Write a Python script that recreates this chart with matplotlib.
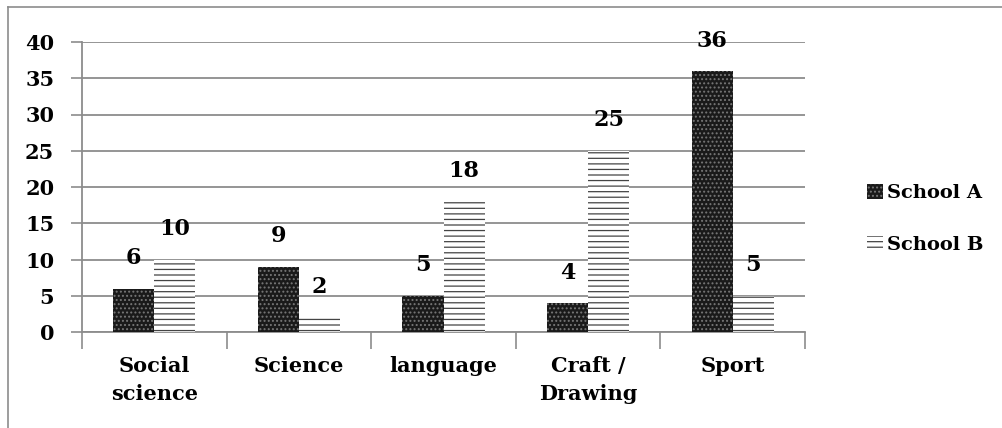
import numpy as np
import matplotlib.pyplot as plt
from matplotlib.patches import Patch
from matplotlib.lines import Line2D

categories = ['Social\nscience', 'Science', 'language', 'Craft /\nDrawing', 'Sport']
school_a = [6, 9, 5, 4, 36]
school_b = [10, 2, 18, 25, 5]

plt.rcParams['font.family'] = ['DejaVu Serif']
plt.rcParams['font.weight'] = 'bold'
plt.rcParams['hatch.linewidth'] = 0.9

fig = plt.figure(figsize=(10.03, 4.28), dpi=100)
ax = fig.add_axes([82 / 1003, 1 - 332 / 428, (805 - 82) / 1003, (332 - 42) / 428])

# outer frame (only top and left visible)
fig.add_artist(Line2D([8 / 1003, 8 / 1003], [0, 1 - 7 / 428], transform=fig.transFigure,
                      color='#8c8c8c', lw=1.2))
fig.add_artist(Line2D([8 / 1003, 1002 / 1003], [1 - 7 / 428, 1 - 7 / 428], transform=fig.transFigure,
                      color='#8c8c8c', lw=1.2))

x = np.arange(len(categories))
w = 0.284
hatch_a = '....'
hatch_b = '---'
bars_a = ax.bar(x - w / 2, school_a, w, color='#1a1a1a', edgecolor='#777777', hatch=hatch_a,
                linewidth=0, label='School A', zorder=3)
bars_b = ax.bar(x + w / 2, school_b, w, color='white', edgecolor='#444444', hatch=hatch_b,
                linewidth=0, label='School B', zorder=3)

for bars, vals in [(bars_a, school_a), (bars_b, school_b)]:
    for b, v in zip(bars, vals):
        ax.annotate(str(v), (b.get_x() + b.get_width() / 2, v), xytext=(0, 14),
                    textcoords='offset points', ha='center', va='bottom',
                    fontsize=16, fontweight='bold')

ax.set_xlim(-0.5, len(categories) - 0.5)
ax.set_ylim(0, 40)
ax.set_yticks(np.arange(0, 41, 5))
ax.yaxis.grid(True, color='#8c8c8c', lw=1.3, zorder=0)
ax.set_axisbelow(True)

ax.set_xticks(np.arange(-0.5, len(categories), 1))
ax.set_xticklabels([])
ax.set_xticks(x, minor=True)
ax.set_xticklabels(categories, minor=True, fontsize=15, fontweight='bold', linespacing=1.55)
ax.tick_params(axis='x', which='minor', length=0, pad=17)
ax.tick_params(axis='x', which='major', length=12, width=1.2, color='#8c8c8c', direction='out')
ax.tick_params(axis='y', length=8, width=1.2, color='#8c8c8c', labelsize=15, pad=12)
for lab in ax.get_yticklabels():
    lab.set_fontweight('bold')

for s in ['top', 'right']:
    ax.spines[s].set_visible(False)
ax.spines['left'].set_color('#8c8c8c')
ax.spines['bottom'].set_color('#8c8c8c')
ax.spines['left'].set_linewidth(1.3)
ax.spines['bottom'].set_linewidth(1.3)

handles = [Patch(facecolor='#1a1a1a', edgecolor='#777777', hatch=hatch_a, linewidth=0),
           Patch(facecolor='white', edgecolor='#444444', hatch=hatch_b, linewidth=0)]
fig.legend(handles, ['School A', 'School B'], loc='center left',
           bbox_to_anchor=(850 / 1003, 1 - 219 / 428), frameon=False,
           prop={'size': 14, 'weight': 'bold'}, handlelength=0.8, handleheight=0.8,
           handletextpad=0.2, labelspacing=1.75)

plt.savefig('out.png', dpi=100)
